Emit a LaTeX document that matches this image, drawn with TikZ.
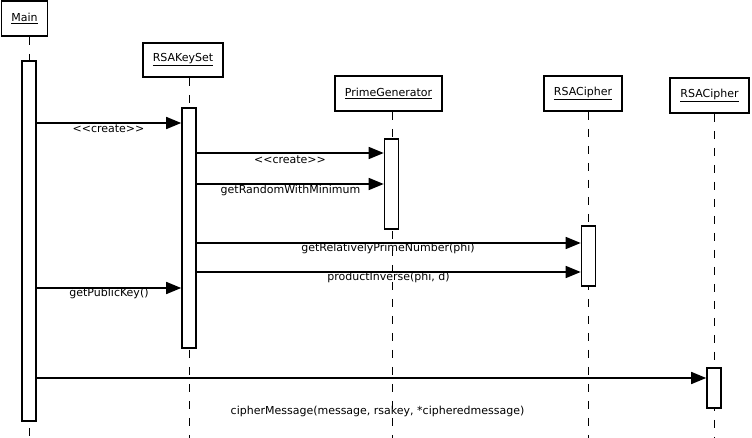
\documentclass[tikz,border=0pt]{standalone}
\usepackage{fontspec}
\newfontfamily\lab{DejaVu Sans}
\usetikzlibrary{arrows.meta}
\begin{document}
\begin{tikzpicture}[x=1pt,y=-1pt,
  obj/.style={draw, line width=1.6pt, fill=white, inner sep=0pt,
    font=\lab\fontsize{11}{13}\selectfont},
  bar/.style={draw, line width=1.6pt, fill=white, minimum width=14pt, inner sep=0pt},
  life/.style={line width=1pt, dash pattern=on 8pt off 9pt},
  msg/.style={line width=1.6pt, -{Triangle[length=15pt,width=12pt]}},
  lbl/.style={font=\lab\fontsize{11}{13}\selectfont, inner sep=0pt}]
\useasboundingbox (0,0) rectangle (752,438);

% object boxes
\node[obj, minimum width=46pt, minimum height=35pt] (main) at (24.5,18.5) {\underline{Main}};
\node[obj, minimum width=80pt, minimum height=34pt] (keyset) at (183,60) {\underline{RSAKeySet}};
\node[obj, minimum width=107pt, minimum height=35pt] (prime) at (388.5,93.5) {\underline{PrimeGenerator}};
\node[obj, minimum width=78pt, minimum height=35pt] (ciphA) at (583,93.5) {\underline{RSACipher}};
\node[obj, minimum width=79pt, minimum height=35pt] (ciphB) at (709.5,95.5) {\underline{RSACipher}};

% lifeline positions
\coordinate (lmain) at (29,438);
\coordinate (lkey) at (189,438);
\coordinate (lprime) at (392,438);
\coordinate (lciphA) at (588,438);
\coordinate (lciphB) at (714,438);

\draw[life] (main.south -| lmain) -- (lmain);
\draw[life] (keyset.south -| lkey) -- (lkey);
\draw[life] (prime.south -| lprime) -- (lprime);
\draw[life] (ciphA.south -| lciphA) -- (lciphA);
\draw[life] (ciphB.south -| lciphB) -- (lciphB);

% activation bars
\node[bar, minimum height=360pt] (mainbar) at (29,241) {};
\node[bar, minimum height=240pt] (keybar) at (189,228) {};
\node[bar, minimum height=90pt] (primebar) at (391.5,184) {};
\node[bar, minimum height=60pt] (ciphAbar) at (588.5,256) {};
\node[bar, minimum height=40pt] (ciphBbar) at (714,388) {};

% messages
\draw[msg] (mainbar.east |- 0,123) -- (keybar.west |- 0,123);
\draw[msg] (keybar.east |- 0,153) -- (primebar.west |- 0,153);
\draw[msg] (keybar.east |- 0,184) -- (primebar.west |- 0,184);
\draw[msg] (keybar.east |- 0,243) -- (ciphAbar.west |- 0,243);
\draw[msg] (keybar.east |- 0,272) -- (ciphAbar.west |- 0,272);
\draw[msg] (mainbar.east |- 0,288) -- (keybar.west |- 0,288);
\draw[msg] (mainbar.east |- 0,378) -- (ciphBbar.west |- 0,378);

% message labels
\node[lbl] (m1) at (108.5,129) {<<create>>};
\node[lbl] (m2) at (290,160) {<<create>>};
\node[lbl] (m3) at (290.5,190) {getRandomWithMinimum};
\node[lbl] (m4) at (388,248) {getRelativelyPrimeNumber(phi)};
\node[lbl] (m5) at (388.5,277) {productInverse(phi, d)};
\node[lbl] (m6) at (109,293) {getPublicKey()};
\node[lbl] (m7) at (377.5,411) {cipherMessage(message, rsakey, *cipheredmessage)};
\end{tikzpicture}
\end{document}
